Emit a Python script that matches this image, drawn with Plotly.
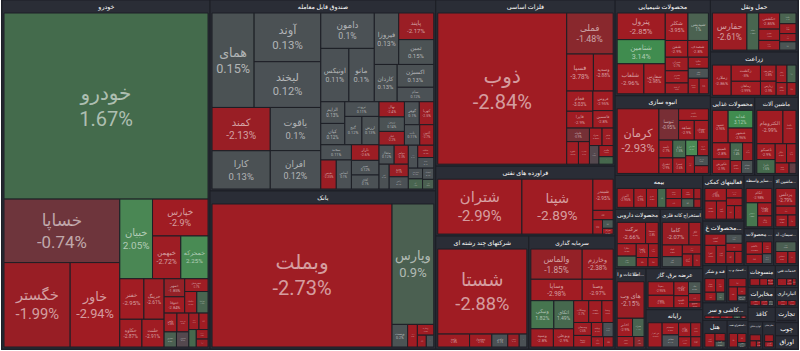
import math
import plotly.graph_objects as go

sectors = [
    "خودرو", "صندوق قابل معامله", "بانک", "فلزات اساسی", "فراورده های نفتی",
    "شرکتهای چند رشته ای", "سرمایه گذاری", "محصولات شیمیایی", "انبوه سازی", "حمل ونقل",
    "زراعت", "محصولات غذایی", "ماشین آلات", "بیمه", "محصولات دارویی",
    "استخراج کانه فلزی", "اطلاعات و ا...", "عرضه برق، گاز", "رایانه", "فعالیتهای کمکی",
    "محصولات غ...", "سیمان، آه...", "محصولات ...", "سایر واسطه...", "ماشین آلا...",
    "هتل", "استخراج نفت...", "قند و شکر", "لاستیک و پ...", "کاشی و سر...",
    "منسوجات", "مخابرات", "خدمات فنی", "انبارداری", "کاغذ",
    "لوازم خانگی", "سایر معادن", "تجارت", "چوب", "اوراق",
]

tickers = [
    ["خودرو", "خساپا", "خگستر", "خاور", "خبیان", "خپارس", "خبهمن", "خمحرکه", "خفنر", "خرینگ", "خکاوه", "خلنت",
     "خمهر", "ختوقا", "خچرخش", "خزامیا", "خکمک", "خاهن", "خریخت", "خشرق", "خموتور", "خنصیر", "خصدرا", "خدیزل", "ختراک", "خودکاوه"],
    ["همای", "آوند", "لبخند", "کمند", "کارا", "یاقوت", "افران", "دامون", "اونیکس", "مانو", "فیروزا", "پایند", "ثمین", "کاردان", "اکسیژن", "سام",
     "الزایم", "کیان", "ثروت", "گنج", "ارزش", "سخند", "نفیس", "آساس", "تاراز", "سپر", "آفاق", "نهال", "زرین", "عیار", "گوهر",
     "کهربا", "ناب", "آلتون", "مثقال", "جواهر", "آتش", "سرو", "رابین", "خاتم", "صایند", "ثبات", "سحرخیز", "آوا", "اعتماد", "امین"],
    ["وبملت", "وپارس", "وپست", "وخاور", "وتجارت", "وبصادر", "دی"],
    ["ذوب", "فملی", "فسپا", "وسدید", "فجام", "فایرا", "فروس", "فاسمین", "فلوله", "فنورد", "فسرب", "فمراد", "فباهنر", "فزر", "فگستر", "فخوز"],
    ["شتران", "شپنا", "شبندر", "شاوان", "شسپا", "شنفت", "شرانل"],
    ["شستا", "وامید", "وصندوق", "وغدیر", "وکغدیر", "وصدر"],
    ["والماس", "وساپا", "وخارزم", "وصنا", "ونیکی", "اتکای", "وسپه", "وبوعلی", "وسکاب", "ونفت", "وسینا", "وسبحان", "وتوصا", "وملت", "وسرمد", "وآوا", "ولتجار"],
    ["پترول", "شتامین", "شلعاب", "شفارس", "شکلر", "شپدیس", "شفن", "شصدف", "شیران", "شبریز", "کرماشا", "شگویا", "شکبیر", "شسینا", "شاملا"],
    ["کرمان", "ثنوسا", "ثاخت", "ثشاهد", "ثمسکن", "ثامید", "ثباغ", "ثشرق", "ثعمرا", "ثفارس", "ثرود", "وتوسم", "ثپردیس", "ثاباد"],
    ["حفارس", "حتاید", "حکشتی", "حپترو", "حسینا", "حآسا", "حریل", "حسیر", "حتوکا"],
    ["زملارد", "زکشت", "زماهان", "زشریف", "زپارس", "زفجر", "زگلدشت", "زقیام", "زدشت"],
    ["غشهد", "غدانه", "غبشهر", "غمینو", "غکورش", "غپاک", "غزر", "غپینو", "غسالم"],
    ["الکترومام", "تکمبا", "تاصیکو", "تایرا", "خکار", "تپمپی", "تشتاد", "تملت"],
    ["البرز", "بپاس", "بنیرو", "بکاب", "بساما", "کوثر", "ملت", "وآفری", "بنو", "بالاس"],
    ["برکت", "دسبحا", "دفارا", "دجابر", "دلقما", "دکیمی", "دارو", "دتماد"],
    ["کاما", "کگل", "کچاد", "کنور", "کمنگنز", "کروی", "کرازی"],
    ["های وب", "اخابر", "همراه", "انتشار", "افق"],
    ["بمپنا", "بپیوند", "بزاگرس", "بکهنوج", "بتک", "بموتو", "بسویچ"],
    ["فن افزار", "سیستم", "مفاخر", "رتاپ", "سپ", "مداران", "تاپکیش"],
    ["آگاه", "مفید", "آسام", "کاریزما", "اوان", "اپرداز", "آپ"],
    ["کساوه", "کفرا", "کسرا", "کفپارس", "کلوند", "کسعدی", "کباده"],
    ["سفار", "سخاش", "سکرما"],
    ["پاکشو", "پارس", "پسهند", "پلاسک"],
    ["اتکام", "وکبهمن", "ولساپا", "ولکار"],
    ["یزدلس", "بالبر", "بشهاب", "بنوک"],
    ["گکوثر", "گتوکا", "گدنا"],
    ["نفت", "حفاری", "نفتی"],
    ["قشکر", "قنیشا", "قهکمت", "قشهد"],
    ["پکرمان", "پتایر", "پیزد", "پدرخش"],
    ["کچینی", "کسرام", "کمرجان", "کخاک"],
    ["نساز", "نطرین", "نبروج"],
    ["مخابر", "تلیران", "رایان"],
    ["خدمت", "فنی", "مهندسی"],
    ["حانبار", "حبندر"],
    ["چکاپا", "چکارن", "چفیبر"],
    ["لابسا", "لپارس", "لخزر"],
    ["کطبس", "کپرور"],
    ["بازرگام", "تجارت"],
    ["چدن", "چوب"],
    ["اخزا", "اراد"],
]

market_value = [
    [408, 79, 60, 45, 28, 22, 13, 12.5, 10.5, 8.8, 6.6, 6.6,
     4.0, 3.6, 3.2, 2.6, 2.8, 2.6, 2.4, 2.0, 2.0, 1.8, 1.6, 1.4, 1.2, 1.0],
    [44.3, 36.2, 34, 28.1, 24.8, 24.3, 21.6, 21.1, 16.7, 15.1, 14, 10.4, 9.7, 9.5, 9.3, 5.9,
     5.8, 5.7, 5.6, 5.4, 5.4, 5.2, 5.0, 4.9, 4.8, 4.5, 4.3, 4.3, 4.1, 3.9, 3.8,
     3.7, 3.5, 3.2, 3.2, 3.0, 2.8, 2.7, 2.6, 2.4, 2.2, 1.9, 1.7, 1.6, 1.4, 1.2],
    [292, 57, 4, 2.5, 2, 1.2, 1.0],
    [221, 21.6, 11.2, 8.3, 6, 5, 4.5, 4, 3.5, 3, 2.8, 2.5, 2.2, 2, 1.8, 1.2],
    [60.7, 51.2, 8.3, 2.5, 1.8, 1.2, 0.8],
    [92, 5, 3.5, 2.5, 1.8, 1.2],
    [18.9, 13.4, 11.4, 8.1, 7.9, 6.8, 5, 4.5, 4, 3.5, 3, 2.8, 2.5, 2, 1.8, 1.5, 1.2],
    [16, 14.5, 10, 8, 7.8, 7, 4.7, 4.3, 3.9, 3.5, 3.1, 2.8, 2.5, 2.1, 1.8],
    [35, 8, 4.5, 4, 3.6, 3.2, 3, 2.8, 2.6, 2.4, 2.2, 2, 1.8, 1.4],
    [19, 6.5, 5, 3.5, 3, 2.6, 2.4, 2, 2],
    [9, 7.5, 6.5, 4, 3.5, 3, 2.5, 2.2, 1.8],
    [7, 6, 5, 4, 3.5, 3, 2.5, 2, 2],
    [12, 6, 4, 3.5, 3, 2.5, 2, 1],
    [6, 4.5, 4, 3, 3, 2.6, 2.4, 2, 1.4, 1.1],
    [9, 4, 3.5, 3, 2.5, 2, 1.6, 1.4],
    [9, 4, 3.5, 3, 2.5, 2, 1.5],
    [14, 4, 3, 2.5, 1.5],
    [6, 5.5, 3.5, 3, 2.5, 1.8, 1.2],
    [6, 3.5, 3.5, 3, 2.5, 2.2, 1.8],
    [4.5, 3.5, 3, 2.5, 2, 1.8, 1.7],
    [4, 3.5, 3, 2.5, 2.2, 1.8, 1.5],
    [4, 3, 2],
    [4, 3, 2.2, 1.8],
    [6, 4.5, 3, 2.5],
    [6, 3, 2.4, 1.6],
    [3.5, 2, 1.5],
    [3, 2, 1],
    [3, 2.5, 2, 1.5],
    [3, 2.5, 1.5, 1],
    [3, 2.5, 1.5, 1],
    [2.5, 2, 1.5],
    [2.5, 1.8, 1.2],
    [2.5, 1.5, 1],
    [2.5, 2],
    [2, 1.2, 0.8],
    [2, 1.2, 0.8],
    [2, 1.5],
    [2, 1.5],
    [1.8, 1.2],
    [2, 1],
]

change_pct = [
    [1.67, -0.74, -1.99, -2.94, 2.05, -2.9, -2.72, 2.25, -2.95, -2.61, -2.87, -2.91,
     -1.85, -2.84, -2.7, 1.2, -2.9, -2.8, -2.5, 0.9, -0.2, -2.7, -2.9, 1.5, -2.6, -2.1],
    [0.15, 0.13, 0.12, -2.13, 0.13, 0.1, 0.12, 0.1, 0.11, 0.1, 0.13, -2.17, 0.15, 0.13, 0.13, 0.12,
     0.13, 0.12, 0.11, 0.12, 0.13, 0.11, -2.35, 0.1, -2.6, 0.12, 0.1, -2.4, 0.14, -2.2, 0.1,
     -2.5, 0.11, -2.7, 0.12, -2.3, 0.13, -2.1, 0.1, 0.11, -2.4, 0.1, 0.12, 1.2, 0.1, 0.9],
    [-2.73, 0.9, 0.2, -2.9, -2.8, -2.5, 0.1],
    [-2.84, -1.48, -3.78, -2.88, -3.03, -2.9, -2.95, -2.8, -0.9, -2.9, -2.7, -2.85, -2.6, -0.2, -2.9, 1.5],
    [-2.99, -2.89, -2.95, -2.8, -2.9, 0.5, -2.6],
    [-2.88, -2.8, -2.9, 0.1, -2.1, 0.1],
    [-1.85, -2.98, -2.38, -2.97, 1.82, 1.49, -2.8, -2.9, -2.7, -2.85, -2.9, -2.6, -2.8, -2.7, 0.1, -2.9, -2.5],
    [-2.85, 3.14, -2.96, -2.98, -3.95, 1.0, -2.9, -2.8, -2.7, -2.9, -2.6, -2.8, 0.2, -2.9, -2.7],
    [-2.93, -0.95, -2.96, -2.9, -2.8, -2.7, 1.5, -2.9, -2.6, 2.1, -2.8, -2.9, 0.2, -2.5],
    [-2.61, 1.25, -2.85, -2.9, -2.7, 1.1, -2.8, -2.5, 0.3],
    [-2.86, -3.0, -2.99, -2.8, -2.9, -2.7, 1.2, -2.6, -2.9],
    [-2.95, 3.12, -2.96, -2.8, -2.9, 1.4, -2.7, -2.6, 0.2],
    [-2.99, -2.84, -2.9, 1.6, -2.8, -2.7, -2.9, -0.5],
    [-2.95, -2.9, -2.8, 1.5, -2.7, -2.9, -2.85, 0.8, -2.6, -2.5],
    [-2.66, -2.8, -2.9, 1.2, -2.7, -2.9, -2.6, -2.8],
    [-2.07, -2.9, -2.8, 0.3, -2.7, -2.9, -2.5],
    [-2.15, -2.9, 1.1, -2.6, -1.5],
    [-2.95, -2.99, -2.8, -2.9, 0.5, -2.7, -2.6],
    [-2.99, -2.9, 0.1, -2.8, -2.7, -2.9, -2.5],
    [-2.95, -2.9, -2.8, -2.7, -2.9, -2.6, -2.8],
    [-2.8, -2.9, -2.7, 0.2, -2.9, -2.6, -2.8],
    [0.85, -2.9, -2.7],
    [-2.95, -2.9, -2.8, 0.1],
    [-2.98, 1.85, -2.8, -2.7],
    [-2.79, -2.9, -2.8, -2.6],
    [-2.87, -2.9, 0.5],
    [-2.8, -2.9, 0.3],
    [-2.95, -2.9, -2.8, 0.8],
    [-2.9, -2.8, -2.7, 0.2],
    [-2.8, -2.9, 1.2, -2.6],
    [-2.8, -2.9, -2.6],
    [-2.8, -2.9, 0.3],
    [-2.7, -2.9, -2.5],
    [-2.8, -2.9],
    [-2.8, -2.6, 0.2],
    [-2.9, -2.7, -2.5],
    [-2.9, -2.7],
    [-2.9, -2.7],
    [-2.8, -2.6],
    [0.1, 0.1],
]

# ---------- styling ----------
HEADER_PAD = 13  # height of each group's title bar
STOPS = [
    (-3.0, (0xA1, 0x1C, 0x23)), (-2.0, (0x98, 0x1E, 0x25)), (-1.5, (0x8A, 0x28, 0x2D)),
    (-1.0, (0x7A, 0x2C, 0x33)), (0.0, (0x4B, 0x4F, 0x55)), (1.0, (0x4B, 0x62, 0x51)),
    (1.7, (0x44, 0x6B, 0x4C)), (2.1, (0x4B, 0x8B, 0x55)), (3.2, (0x3F, 0x8C, 0x4F)),
]


def pct_color(p):
    if p <= STOPS[0][0]:
        c = STOPS[0][1]
    elif p >= STOPS[-1][0]:
        c = STOPS[-1][1]
    else:
        for (a, ca), (b, cb) in zip(STOPS, STOPS[1:]):
            if a <= p <= b:
                t = (p - a) / (b - a)
                c = tuple(round(ca[k] + (cb[k] - ca[k]) * t) for k in range(3))
                break
    return "#%02x%02x%02x" % c


def fmt_pct(p):
    return f"{p:g}%"


ids, labels, parents, values, colors, texts, sizes, fcolors = [], [], [], [], [], [], [], []

for si, sec in enumerate(sectors):
    sid = f"s{si}"
    ids.append(sid)
    labels.append(sec)
    parents.append("")
    values.append(0)
    colors.append("#2a2d36")
    texts.append(f"<b>{sec}</b>")
    sizes.append(9)
    fcolors.append("#ffffff")
    for ti, (tk, v, p) in enumerate(zip(tickers[si], market_value[si], change_pct[si])):
        ids.append(f"t{si}_{ti}")
        labels.append(tk)
        parents.append(sid)
        values.append(v)
        colors.append(pct_color(p))
        texts.append(f"{tk}<br>{fmt_pct(p)}")
        sizes.append(max(4, min(20, 1.9 * math.sqrt(v))))
        fcolors.append("rgba(255,255,255,0.58)")

fig = go.Figure(go.Treemap(
    ids=ids,
    labels=labels,
    parents=parents,
    values=values,
    branchvalues="remainder",
    text=texts,
    textinfo="text",
    textposition="middle center",
    textfont=dict(family="Roboto, DejaVu Sans, sans-serif", size=sizes, color=fcolors),
    marker=dict(colors=colors, line=dict(width=1, color="#1d1f26"),
                pad=dict(t=HEADER_PAD, l=2, r=2, b=2)),
    tiling=dict(packing="binary", pad=0),
    pathbar=dict(visible=False),
    root=dict(color="#1f2129"),
    sort=True,
    hoverinfo="label+value",
))

# the hidden multi-root level also reserves a title bar; the figure is made that much
# taller and shifted up so the visible window shows only the sector groups
fig.update_layout(
    width=800, height=351 + HEADER_PAD,
    margin=dict(l=0, r=0, t=0, b=0),
    paper_bgcolor="#1f2129",
    plot_bgcolor="#1f2129",
)

post = ("var gd=document.getElementById('{plot_id}');"
        "gd.style.position='relative';gd.style.top='-%dpx';"
        "document.body.style.margin='0';document.body.style.overflow='hidden';"
        "document.body.style.background='#1f2129';" % HEADER_PAD)

fig.write_html("out.html", post_script=post)
